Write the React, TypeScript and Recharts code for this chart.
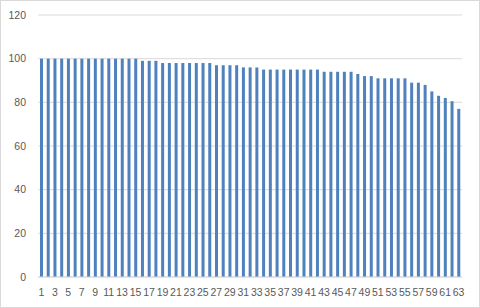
import { BarChart, Bar, XAxis, YAxis, CartesianGrid } from 'recharts';

// Номера категорий 1..63 и значения столбцов
const categories = [
  '1', '2', '3', '4', '5', '6', '7', '8', '9', '10',
  '11', '12', '13', '14', '15', '16', '17', '18', '19', '20',
  '21', '22', '23', '24', '25', '26', '27', '28', '29', '30',
  '31', '32', '33', '34', '35', '36', '37', '38', '39', '40',
  '41', '42', '43', '44', '45', '46', '47', '48', '49', '50',
  '51', '52', '53', '54', '55', '56', '57', '58', '59', '60',
  '61', '62', '63',
];

const values = [
  100, 100, 100, 100, 100, 100, 100, 100, 100, 100,
  100, 100, 100, 100, 100, 99, 99, 99, 98, 98,
  98, 98, 98, 98, 98, 98, 97, 97, 97, 97,
  96, 96, 96, 95, 95, 95, 95, 95, 95, 95,
  95, 95, 94, 94, 94, 94, 94, 93, 92, 92,
  91, 91, 91, 91, 91, 89, 89, 88, 85, 83,
  82, 80.5, 77,
];

const yTicks = [0, 20, 40, 60, 80, 100, 120];

const data = categories.map((label, i) => ({ label, value: values[i] }));

const tickStyle = { fontSize: 10.5, fill: '#595959', fontFamily: 'Liberation Sans, Arial, sans-serif' };

export default function App() {
  return (
    <div style={{ position: 'fixed', left: 0, top: 0, width: 480, height: 308, background: '#fff' }}>
      <BarChart
        width={480}
        height={308}
        data={data}
        margin={{ top: 15, right: 18, bottom: 6, left: 0 }}
        barSize={3}
      >
        <CartesianGrid vertical={false} stroke="#d9d9d9" />
        <XAxis
          dataKey="label"
          interval={1}
          tickLine={false}
          axisLine={{ stroke: '#d9d9d9' }}
          tick={tickStyle}
          tickMargin={6}
          height={25}
        />
        <YAxis
          domain={[0, 120]}
          ticks={yTicks}
          width={38}
          axisLine={false}
          tickLine={false}
          tick={tickStyle}
          tickMargin={6}
        />
        <Bar dataKey="value" fill="#4f81bd" isAnimationActive={false} />
      </BarChart>
      {/* рамка области диаграммы */}
      <div
        style={{
          position: 'absolute',
          inset: 0,
          border: '1px solid #d9d9d9',
          pointerEvents: 'none',
        }}
      />
    </div>
  );
}
